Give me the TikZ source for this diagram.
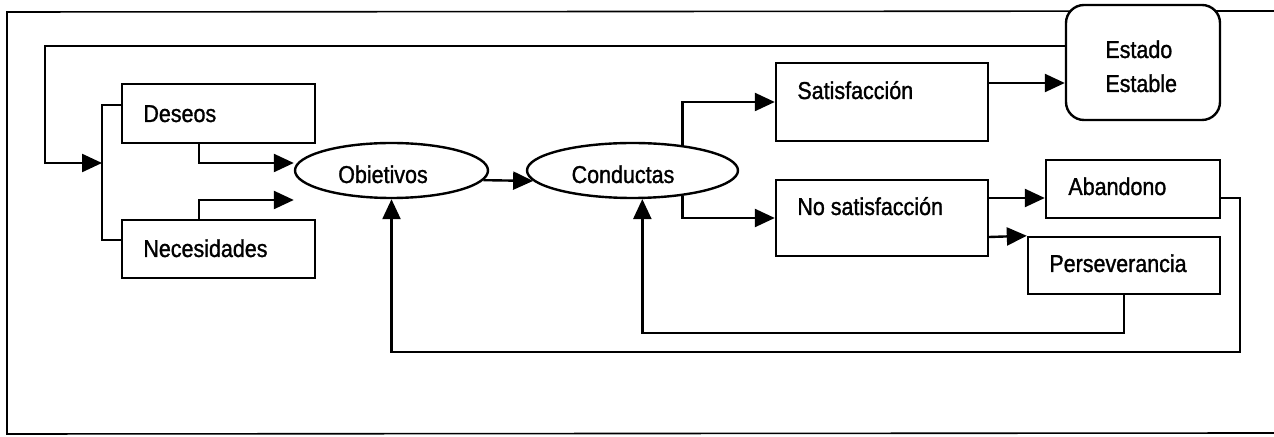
\documentclass[tikz,border=0pt]{standalone}
\usepackage{fontspec}
\setmainfont{Liberation Sans}[FakeStretch=0.88,FakeBold=1.2]
\usetikzlibrary{arrows.meta,shapes.geometric,calc}
\begin{document}
\begin{tikzpicture}[x=0.5pt,y=-0.5pt,
  box/.style={draw, line width=1.2pt, rectangle, inner sep=0pt, fill=white},
  oval/.style={draw, line width=1.2pt, ellipse, inner sep=0pt},
  txt/.style={inner sep=0pt, font=\fontsize{12.2}{14}\selectfont},
  link/.style={line width=1.2pt},
  arr/.style={line width=1.2pt, -{Triangle[length=10pt,width=9pt]}},
  frame/.style={line width=0.8pt}]
\useasboundingbox (0,0) rectangle (1274,437);
% frame
\draw[frame] (1274,11) -- (7,12) -- (7,435);
\draw[frame] (7,434) -- (1274,433);
% boxes
\node[box, minimum width=96.5pt, minimum height=29.5pt] (des) at (218.5,113.5) {};
\node[box, minimum width=96.5pt, minimum height=29pt] (nec) at (218.5,249) {};
\node[oval, minimum width=96.5pt, minimum height=27.5pt] (obi) at (391.5,170.5) {};
\node[oval, minimum width=105.5pt, minimum height=27.5pt] (con) at (632.5,170.5) {};
\node[box, minimum width=106pt, minimum height=39pt] (sat) at (882,102) {};
\node[box, minimum width=106pt, minimum height=38pt] (nos) at (882,218) {};
\node[box, rounded corners=9pt, minimum width=77pt, minimum height=57.5pt] (est) at (1143,62.5) {};
\node[box, minimum width=87pt, minimum height=29pt] (aba) at (1133,189) {};
\node[box, minimum width=96pt, minimum height=28.5pt] (per) at (1124,265.5) {};
% texts
\node[txt, anchor=base west] (tdes) at (143,122) {Deseos};
\node[txt, anchor=base west] (tnec) at (143,257) {Necesidades};
\node[txt, anchor=base] (tobi) at (383,183) {Obietivos};
\node[txt, anchor=base] (tcon) at (623,183) {Conductas};
\node[txt, anchor=base west] (tsat) at (797,99) {Satisfacción};
\node[txt, anchor=base west] (tnos) at (797,215) {No satisfacción};
\node[txt, anchor=base west] (test1) at (1105,58) {Estado};
\node[txt, anchor=base west] (test2) at (1105,92) {Estable};
\node[txt, anchor=base west] (taba) at (1068,195) {Abandono};
\node[txt, anchor=base west] (tper) at (1049,272) {Perseverancia};
% helper coordinates
\coordinate (topL) at (45,46);
\coordinate (join) at (102,163);
\coordinate (brT) at (102,105);
\coordinate (brB) at (102,240);
\coordinate (d1) at (199,163);
\coordinate (n1) at (199,200);
% connectors
\draw[arr] (topL -| est.west) -- (topL) |- (join);
\draw[link] (brT -| des.west) -- (brT) -- (brB) -- (brB -| nec.west);
\draw[arr] (d1 |- des.south) -- (d1) -- (d1 -| obi.west);
\draw[arr] (n1 |- nec.north) -- (n1) -- (n1 -| obi.west);
\draw[arr] (obi.-6) -- (con.186);
\draw[arr] (con.27) |- (sat.west);
\draw[arr] (con.-27) |- (nos.west);
\draw[arr] ($(sat.east)+(0,-19)$) -- ($(est.west)+(0,20.5)$);
\draw[arr] ($(nos.east)+(0,-20)$) -- ($(aba.west)+(0,9)$);
\draw[arr] ($(nos.east)+(0,19)$) -- (per.north west);
\draw[arr] (per.south) -- ++(0,38) -| (con.-71);
\draw[arr] ($(aba.east)+(0,9)$) -- ++(19,0) -- ++(0,154) -| (obi.south);
\end{tikzpicture}
\end{document}
